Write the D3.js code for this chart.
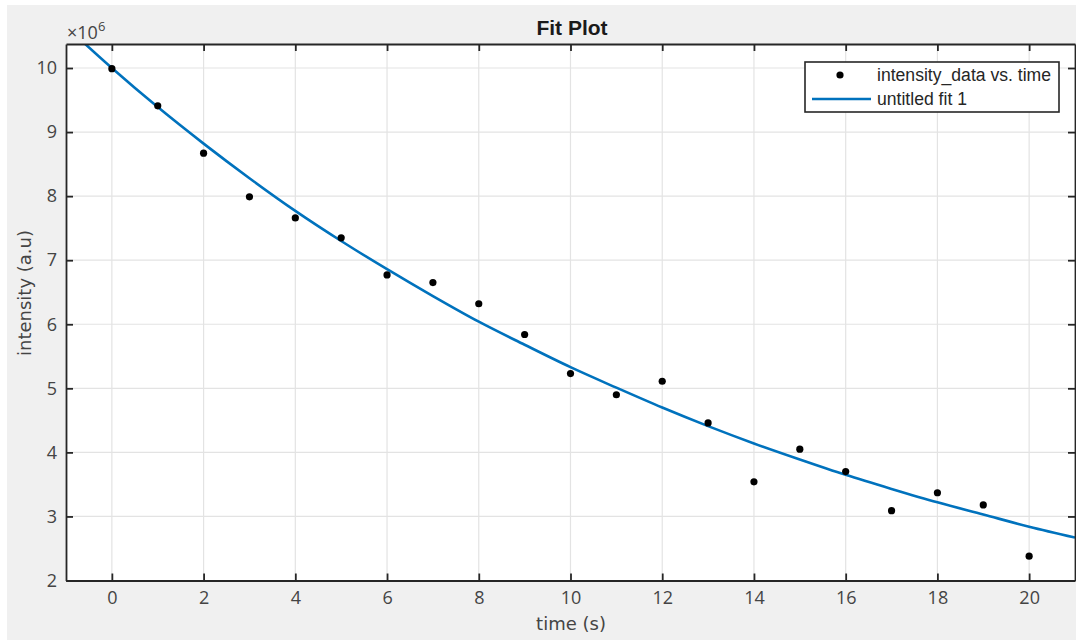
<!DOCTYPE html>
<html>
<head>
<meta charset="utf-8">
<script src="https://cdn.jsdelivr.net/npm/d3@7"></script>
<style>
  html, body { margin: 0; padding: 0; background: #ffffff; }
  svg { display: block; }
</style>
</head>
<body>
<svg id="chart" width="1076" height="640"></svg>
<script>
// Data (intensity in units of 1e6)
const timeS = [0, 1, 2, 3, 4, 5, 6, 7, 8, 9, 10, 11, 12, 13, 14, 15, 16, 17, 18, 19, 20];
const intensity = [9.99, 9.41, 8.67, 7.99, 7.66, 7.35, 6.77, 6.65, 6.32, 5.84, 5.23,
                   4.90, 5.11, 4.46, 3.54, 4.05, 3.70, 3.09, 3.37, 3.18, 2.38];
// fit curve at each second
const fitTime = [-1, 0, 1, 2, 3, 4, 5, 6, 7, 8, 9, 10, 11, 12, 13, 14, 15, 16, 17, 18, 19, 20, 21];
const fitValues = [10.65, 10.00, 9.39, 8.82, 8.28, 7.77, 7.30, 6.86, 6.44, 6.04, 5.68, 5.33,
                   5.01, 4.70, 4.41, 4.14, 3.89, 3.65, 3.43, 3.22, 3.03, 2.84, 2.67];
const xTicks = [0, 2, 4, 6, 8, 10, 12, 14, 16, 18, 20];
const yTicks = [2, 3, 4, 5, 6, 7, 8, 9, 10];
const legendLabels = ["intensity_data vs. time", "untitled fit 1"];

const svg = d3.select("#chart");

// figure background (grey panel with thin white border on top/left)
svg.append("rect")
    .attr("x", 7).attr("y", 5)
    .attr("width", 1069).attr("height", 635)
    .attr("fill", "#f0f0f0");

const box = {left: 66, right: 1075, top: 44, bottom: 580.5};

const x = d3.scaleLinear().domain([-1, 21]).range([box.left, box.right]);
const y = d3.scaleLinear().domain([2, 10.375]).range([box.bottom, box.top]);

// axes face
svg.append("rect")
    .attr("x", box.left).attr("y", box.top)
    .attr("width", box.right - box.left).attr("height", box.bottom - box.top)
    .attr("fill", "#ffffff");

// grid
const grid = svg.append("g").attr("stroke", "#e3e3e3").attr("stroke-width", 1.2);
grid.selectAll("line.gx")
    .data(xTicks)
    .enter().append("line")
    .attr("x1", d => x(d)).attr("x2", d => x(d))
    .attr("y1", box.top).attr("y2", box.bottom);
grid.selectAll("line.gy")
    .data(yTicks)
    .enter().append("line")
    .attr("x1", box.left).attr("x2", box.right)
    .attr("y1", d => y(d)).attr("y2", d => y(d));

// clip for the fit line
svg.append("clipPath").attr("id", "plotClip")
    .append("rect")
    .attr("x", box.left).attr("y", box.top)
    .attr("width", box.right - box.left).attr("height", box.bottom - box.top);

// fit line
const fitLine = d3.line()
    .x((d, i) => x(fitTime[i]))
    .y(d => y(d))
    .curve(d3.curveMonotoneX);
svg.append("path")
    .datum(fitValues)
    .attr("clip-path", "url(#plotClip)")
    .attr("fill", "none")
    .attr("stroke", "#0072bd")
    .attr("stroke-width", 2.6)
    .attr("d", fitLine);

// data points
svg.selectAll("circle.pt")
    .data(intensity)
    .enter().append("circle")
    .attr("cx", (d, i) => x(timeS[i]))
    .attr("cy", d => y(d))
    .attr("r", 3.6)
    .attr("fill", "#000000");

// axes (ticks pointing inward, MATLAB style)
const tickFont = "'Open Sans', 'Noto Sans', sans-serif";
function styleAxis(g) {
    g.select(".domain").attr("stroke", "#262626").attr("stroke-width", 1.8);
    g.selectAll(".tick line").attr("stroke", "#262626").attr("stroke-width", 1.8);
    g.selectAll(".tick text")
        .attr("fill", "#444444")
        .style("font-family", tickFont)
        .style("font-size", "18px");
}

svg.append("g")
    .attr("transform", `translate(0, ${box.bottom})`)
    .call(d3.axisBottom(x).tickValues(xTicks).tickSize(-7).tickSizeOuter(0).tickPadding(11))
    .call(styleAxis);
svg.append("g")
    .attr("transform", `translate(${box.left}, 0)`)
    .call(d3.axisLeft(y).tickValues(yTicks).tickSize(-7).tickSizeOuter(0).tickPadding(9))
    .call(styleAxis);
svg.append("g")
    .attr("transform", `translate(0, ${box.top})`)
    .call(d3.axisTop(x).tickValues(xTicks).tickSize(-7).tickSizeOuter(0).tickFormat(""))
    .call(styleAxis);
svg.append("g")
    .attr("transform", `translate(${box.right}, 0)`)
    .call(d3.axisRight(y).tickValues(yTicks).tickSize(-7).tickSizeOuter(0).tickFormat(""))
    .call(styleAxis);

// exponent label
const expo = svg.append("text")
    .attr("x", 67).attr("y", 39)
    .attr("fill", "#444444")
    .style("font-family", tickFont)
    .style("font-size", "18px")
    .text("\u00d710");
expo.append("tspan")
    .attr("dy", -8)
    .style("font-size", "13px")
    .text("6");

// title
svg.append("text")
    .attr("x", 572).attr("y", 35)
    .attr("text-anchor", "middle")
    .attr("fill", "#1a1a1a")
    .style("font-family", "'Liberation Sans', Arial, sans-serif")
    .style("font-weight", "bold")
    .style("font-size", "21px")
    .text("Fit Plot");

// axis labels
svg.append("text")
    .attr("x", 571).attr("y", 630)
    .attr("text-anchor", "middle")
    .attr("fill", "#444444")
    .style("font-family", "'DejaVu Sans', sans-serif")
    .style("font-size", "18px")
    .text("time (s)");
svg.append("text")
    .attr("transform", "translate(31, 293) rotate(-90)")
    .attr("text-anchor", "middle")
    .attr("fill", "#444444")
    .style("font-family", "'DejaVu Sans', sans-serif")
    .style("font-size", "18px")
    .text("intensity (a.u)");

// legend
const legend = svg.append("g");
legend.append("rect")
    .attr("x", 805).attr("y", 62)
    .attr("width", 254).attr("height", 50)
    .attr("fill", "#ffffff")
    .attr("stroke", "#262626")
    .attr("stroke-width", 1.6);
legend.append("circle")
    .attr("cx", 840).attr("cy", 75)
    .attr("r", 3.6)
    .attr("fill", "#000000");
legend.append("line")
    .attr("x1", 812).attr("x2", 871)
    .attr("y1", 99).attr("y2", 99)
    .attr("stroke", "#0072bd")
    .attr("stroke-width", 2.6);
legend.selectAll("text")
    .data(legendLabels)
    .enter().append("text")
    .attr("x", 877)
    .attr("y", (d, i) => 81 + i * 24)
    .attr("fill", "#262626")
    .style("font-family", "'Liberation Sans', Arial, sans-serif")
    .style("font-size", "17.6px")
    .text(d => d);
</script>
</body>
</html>
